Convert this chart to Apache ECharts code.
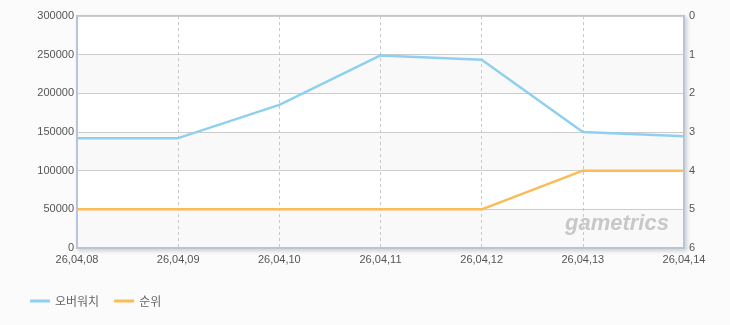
<!DOCTYPE html>
<html><head><meta charset="utf-8">
<script src="https://cdn.jsdelivr.net/npm/echarts@6/dist/echarts.min.js"></script>
<style>html,body{margin:0;padding:0;background:#fbfbfb;}#c{width:730px;height:325px;}</style>
</head><body><div id="c"></div>
<script>
var categories = ['26,04,08','26,04,09','26,04,10','26,04,11','26,04,12','26,04,13','26,04,14'];
var overwatch = [142000,142000,185000,249000,243500,150000,144500];
var rank = [5,5,5,5,5,4,4];
var seriesNames = ['오버워치','순위'];

var chart = echarts.init(document.getElementById('c'));
chart.setOption({
  backgroundColor:'#fbfbfb',
  animation:false,
  textStyle:{fontFamily:'"Liberation Sans", Arial, sans-serif'},
  grid:{left:77,right:46,top:16,bottom:77,show:true,backgroundColor:'#fff',borderWidth:2,borderColor:'#b4c6d8',
        shadowColor:'rgba(0,0,0,0.15)',shadowBlur:4,shadowOffsetX:2,shadowOffsetY:2},
  legend:{left:25,top:290,itemWidth:20,itemHeight:3,itemGap:15,icon:'rect',
    textStyle:{color:'#666',fontSize:12,fontFamily:'"Noto Sans CJK KR", sans-serif'},
    data:seriesNames},
  graphic:[{type:'text',left:565,top:213,z:100,style:{text:'gametrics',font:'italic bold 22px "Liberation Sans", Arial, sans-serif',fill:'#c8c8c8'}}],
  xAxis:{type:'category',data:categories,boundaryGap:false,
    axisLine:{lineStyle:{color:'#b4c6d8',width:2}},axisTick:{show:false},
    axisLabel:{color:'#555',fontSize:11,margin:6},
    splitLine:{show:true,lineStyle:{color:'#c8c8c8',type:[3,3],width:1}}},
  yAxis:[{type:'value',min:0,max:300000,interval:50000,position:'left',
    axisLine:{show:true,lineStyle:{color:'#b4c6d8',width:2}},axisTick:{show:false},
    axisLabel:{color:'#555',fontSize:11,margin:3,formatter:function(v){return String(v);}},
    splitLine:{show:true,lineStyle:{color:'#cccccc',width:1}},
    splitArea:{show:true,areaStyle:{color:['#f9f9f9','#ffffff']}}},
   {type:'value',min:0,max:6,interval:1,inverse:true,position:'right',
    axisLine:{show:true,lineStyle:{color:'#b4c6d8',width:2}},axisTick:{show:false},
    axisLabel:{color:'#555',fontSize:11,margin:5},
    splitLine:{show:false}}],
  series:[
   {name:seriesNames[0],type:'line',data:overwatch,yAxisIndex:0,symbol:'none',
    lineStyle:{color:'#8fd0f0',width:2.5},itemStyle:{color:'#8fd0f0'}},
   {name:seriesNames[1],type:'line',data:rank,yAxisIndex:1,symbol:'none',
    lineStyle:{color:'#fbbc55',width:2.5},itemStyle:{color:'#fbbc55'}}
  ]
});
</script></body></html>
